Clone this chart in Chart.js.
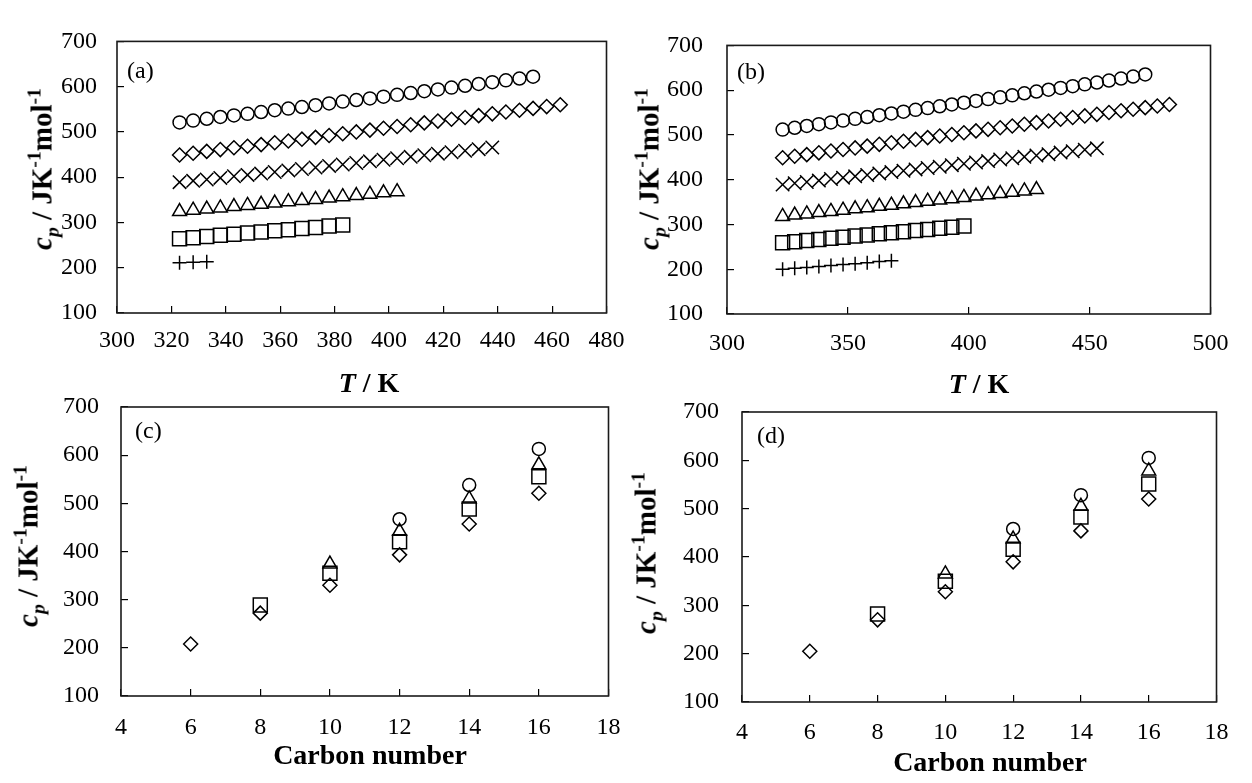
<!DOCTYPE html>
<html>
<head>
<meta charset="utf-8">
<title>Heat capacity of n-alkanes</title>
<script src="https://cdn.jsdelivr.net/npm/chart.js@4.4.1/dist/chart.umd.min.js"></script>
<style>
  html, body { margin: 0; padding: 0; background: #fff; }
  #page { position: relative; width: 1252px; height: 783px; overflow: hidden;
          font-family: "Liberation Serif", "Times New Roman", serif; color: #000; }
  .panel { position: absolute; }
  .ttl { position: absolute; font-weight: bold; font-size: 28px; line-height: 1;
         white-space: nowrap; transform: translate(-50%, -50%); }
  .ttl.vert { font-size: 29px; transform: translate(-50%, -50%) rotate(-90deg); }
  .ttl sub, .ttl sup { font-size: 0.68em; line-height: 0; }
</style>
</head>
<body>
<div id="page">
  <div class="panel" style="left:0px;top:0px"><canvas id="chartA" width="645" height="360"></canvas></div>
  <div class="panel" style="left:620px;top:0px"><canvas id="chartB" width="631" height="360"></canvas></div>
  <div class="panel" style="left:0px;top:360px"><canvas id="chartC" width="645" height="423"></canvas></div>
  <div class="panel" style="left:620px;top:360px"><canvas id="chartD" width="632" height="423"></canvas></div>

  <div class="ttl vert" style="left:42px;top:169px"><i>c</i><sub><i>p</i></sub> / JK<sup>-1</sup>mol<sup>-1</sup></div>
  <div class="ttl vert" style="left:649px;top:169px"><i>c</i><sub><i>p</i></sub> / JK<sup>-1</sup>mol<sup>-1</sup></div>
  <div class="ttl vert" style="left:28px;top:546px"><i>c</i><sub><i>p</i></sub> / JK<sup>-1</sup>mol<sup>-1</sup></div>
  <div class="ttl vert" style="left:646px;top:553px"><i>c</i><sub><i>p</i></sub> / JK<sup>-1</sup>mol<sup>-1</sup></div>

  <div class="ttl" style="left:369px;top:383px"><i>T</i> / K</div>
  <div class="ttl" style="left:979px;top:384px"><i>T</i> / K</div>
  <div class="ttl" style="left:370px;top:755px">Carbon number</div>
  <div class="ttl" style="left:990px;top:762px">Carbon number</div>
</div>

<script>
// temperatures (K) used by panels (a) and (b), each series takes the first N
var temps = [323, 328, 333, 338, 343, 348, 353, 358, 363, 368, 373, 378, 383, 388, 393, 398, 403,
             408, 413, 418, 423, 428, 433, 438, 443, 448, 453, 458, 463, 468, 473, 478, 483];

// panel (a)
var aCircle   = [521, 525, 529, 533, 536.5, 540, 544, 548, 551.5, 555, 559, 563, 567, 570.5, 574, 578,
                 582, 586, 590, 594, 598, 602, 606, 610, 614, 618, 622];
var aDiamond  = [449, 453, 457, 461, 465, 468.5, 472, 476, 480, 484, 488, 492, 496, 500, 504, 508, 512,
                 516, 520, 524, 528, 532, 536, 540, 544, 548, 552, 556, 560];
var aCross    = [389, 392, 395, 398.5, 402, 405, 408, 411.5, 415, 418, 421.5, 425, 428, 431.5, 435,
                 438.5, 442, 445, 448.5, 452, 455, 458.5, 462, 465.5];
var aTriangle = [324, 327, 329.5, 332, 335, 337.5, 340, 343, 346, 348.5, 351, 354, 357, 359.5, 362.5, 365.5, 368];
var aSquare   = [264, 266.5, 269, 271.5, 274, 276.5, 279, 281.5, 284, 286.5, 289, 292, 294.5];
var aPlus     = [211, 212, 213];

// panel (b)
var bCircle   = [512, 516, 520, 524, 528, 532, 536, 540, 544, 548, 552, 556, 560, 564, 568, 572, 576,
                 580, 584, 588.5, 593, 597, 601, 605, 609, 613, 617, 621.5, 626, 630.5, 635];
var bDiamond  = [449, 452.5, 456, 460, 464, 467.5, 471, 475, 479, 482.5, 486, 490, 494, 497.5, 501, 505,
                 509, 512.5, 516, 520, 524, 527.5, 531, 535, 539, 542.5, 546, 550, 554, 557.5, 561, 564.5, 568];
var bCross    = [389, 392, 395, 398, 401.5, 404.5, 407.5, 410.5, 414, 417, 420, 423, 426, 429, 432.5,
                 435.5, 438.5, 441.5, 445, 448, 451, 454, 457, 460.5, 463.5, 467, 470];
var bTriangle = [318, 321, 323.5, 326.5, 329, 332, 335, 337.5, 340.5, 343, 346, 349, 352, 354.5, 357.5,
                 360.5, 363.5, 366.5, 369, 372, 375, 378];
var bSquare   = [259, 261.5, 264, 266.5, 269, 271.5, 274, 276.5, 279, 281.5, 284, 286.5, 289, 291.5, 294, 296.5];
var bPlus     = [200, 202, 204, 206, 208.5, 210.5, 212.5, 214.5, 217, 219];

// panels (c) and (d): carbon number on x, null = no point
var carbon = [6, 8, 10, 12, 14, 16];
var cCircle   = [null, null, null, 467, 538, 613];
var cTriangle = [null, null, 374, 442, 509, 580];
var cSquare   = [null, 289, 355, 420, 488, 555];
var cDiamond  = [208, 272, 330, 393, 457, 521];
var dCircle   = [null, null, null, 458, 528, 605];
var dTriangle = [null, null, 365, 437, 505, 578];
var dSquare   = [null, 282, 350, 416, 483, 551];
var dDiamond  = [205, 270, 328, 390, 454, 520];

var markers = {
  circle:   { style: 'circle',   r: 6.5 },
  diamond:  { style: 'rectRot',  r: 7 },
  cross:    { style: 'crossRot', r: 9.5 },
  triangle: { style: 'triangle', r: 8 },
  square:   { style: 'rect',     r: 9.9 },
  plus:     { style: 'cross',    r: 7 }
};

function toPoints(xs, ys) {
  var pts = [];
  ys.forEach(function (y, i) {
    if (y !== null) pts.push({ x: xs[i], y: y });
  });
  return pts;
}

function series(xs, ys, kind) {
  var m = markers[kind];
  return {
    data: toPoints(xs, ys),
    pointStyle: m.style,
    pointRadius: m.r,
    pointHoverRadius: m.r,
    pointBorderColor: '#000',
    pointBackgroundColor: 'rgba(0,0,0,0)',
    pointBorderWidth: 1.5,
    showLine: false
  };
}

// frame round the plot area plus the (a)/(b)... tag
var framePlugin = {
  id: 'panelTag',
  afterDraw: function (chart, args, opts) {
    var a = chart.chartArea, ctx = chart.ctx;
    ctx.save();
    ctx.strokeStyle = '#1a1a1a';
    ctx.lineWidth = 1.6;
    ctx.strokeRect(a.left, a.top, a.right - a.left, a.bottom - a.top);
    ctx.fillStyle = '#000';
    ctx.font = '24px "Liberation Serif", serif';
    ctx.textBaseline = 'middle';
    ctx.textAlign = 'left';
    ctx.fillText(opts.text, a.left + opts.dx, a.top + opts.dy);
    ctx.restore();
  }
};

function tickFont() { return { family: '"Liberation Serif", serif', size: 24 }; }

function makePanel(id, cfg) {
  return new Chart(document.getElementById(id), {
    type: 'scatter',
    data: { datasets: cfg.datasets },
    options: {
      responsive: false,
      animation: false,
      events: [],
      layout: { padding: { left: 0, top: cfg.padTop, right: cfg.padRight, bottom: 0 } },
      plugins: {
        legend: { display: false },
        tooltip: { enabled: false },
        panelTag: { text: cfg.tag, dx: cfg.tagDx, dy: cfg.tagDy }
      },
      scales: {
        x: {
          type: 'linear', position: 'bottom', min: cfg.xMin, max: cfg.xMax,
          ticks: { stepSize: cfg.xStep, color: '#000', font: tickFont(), padding: cfg.xPad,
                   autoSkip: false, maxRotation: 0 },
          grid: { drawOnChartArea: false, drawTicks: true, tickLength: -7, color: '#000', lineWidth: 1.2 },
          border: { display: false },
          afterFit: function (s) { s.height = cfg.xH; }
        },
        y: {
          type: 'linear', position: 'left', min: 100, max: 700,
          ticks: { stepSize: 100, color: '#000', font: tickFont(), padding: cfg.yPad },
          grid: { drawOnChartArea: false, drawTicks: true, tickLength: -7, color: '#000', lineWidth: 1.2 },
          border: { display: false },
          afterFit: function (s) { s.width = cfg.yW; }
        }
      }
    },
    plugins: [framePlugin]
  });
}

makePanel('chartA', {
  datasets: [
    series(temps, aCircle, 'circle'),
    series(temps, aDiamond, 'diamond'),
    series(temps, aCross, 'cross'),
    series(temps, aTriangle, 'triangle'),
    series(temps, aSquare, 'square'),
    series(temps, aPlus, 'plus')
  ],
  xMin: 300, xMax: 480, xStep: 20,
  padTop: 24, padRight: 26, yW: 117, xH: 47, xPad: 20.5, yPad: 27,
  tag: '(a)', tagDx: 10, tagDy: 30
});

makePanel('chartB', {
  datasets: [
    series(temps, bCircle, 'circle'),
    series(temps, bDiamond, 'diamond'),
    series(temps, bCross, 'cross'),
    series(temps, bTriangle, 'triangle'),
    series(temps, bSquare, 'square'),
    series(temps, bPlus, 'plus')
  ],
  xMin: 300, xMax: 500, xStep: 50,
  padTop: 29, padRight: 22, yW: 107, xH: 46, xPad: 22.5, yPad: 31,
  tag: '(b)', tagDx: 10, tagDy: 27
});

makePanel('chartC', {
  datasets: [
    series(carbon, cCircle, 'circle'),
    series(carbon, cTriangle, 'triangle'),
    series(carbon, cSquare, 'square'),
    series(carbon, cDiamond, 'diamond')
  ],
  xMin: 4, xMax: 18, xStep: 2,
  padTop: 47, padRight: 27, yW: 121, xH: 87, xPad: 24.5, yPad: 29,
  tag: '(c)', tagDx: 14, tagDy: 25
});

makePanel('chartD', {
  datasets: [
    series(carbon, dCircle, 'circle'),
    series(carbon, dTriangle, 'triangle'),
    series(carbon, dSquare, 'square'),
    series(carbon, dDiamond, 'diamond')
  ],
  xMin: 4, xMax: 18, xStep: 2,
  padTop: 52, padRight: 13, yW: 122, xH: 81, xPad: 23.5, yPad: 30,
  tag: '(d)', tagDx: 15, tagDy: 25
});
</script>
</body>
</html>
